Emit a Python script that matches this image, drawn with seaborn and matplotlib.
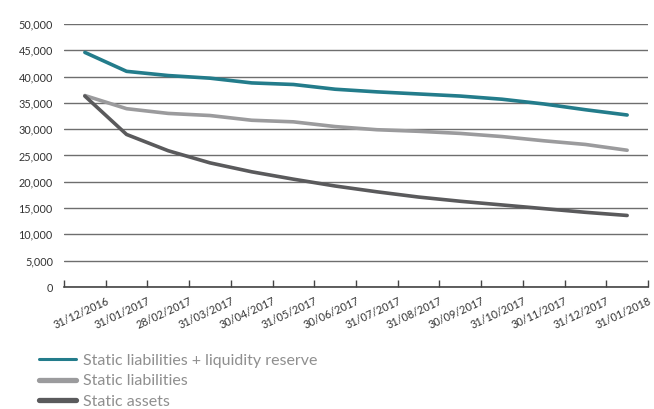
import matplotlib
matplotlib.use("Agg")
import matplotlib.pyplot as plt
import matplotlib.ticker as mticker
from matplotlib.lines import Line2D
import seaborn as sns
import pandas as pd

dates = ["31/12/2016", "31/01/2017", "28/02/2017", "31/03/2017", "30/04/2017",
         "31/05/2017", "30/06/2017", "31/07/2017", "31/08/2017", "30/09/2017",
         "31/10/2017", "30/11/2017", "31/12/2017", "31/01/2018"]
liab_reserve = [44600, 41000, 40200, 39700, 38800, 38500, 37600,
                37100, 36700, 36300, 35700, 34800, 33700, 32700]
liabilities = [36400, 33900, 33000, 32600, 31700, 31400, 30500,
               29900, 29600, 29200, 28600, 27800, 27100, 26000]
assets = [36300, 29000, 25900, 23600, 21900, 20500, 19200,
          18100, 17100, 16300, 15600, 14900, 14200, 13600]
series_names = ["Static liabilities + liquidity reserve",
                "Static liabilities", "Static assets"]
colors = ["#237c8b", "#9b9b9d", "#5a5a5c"]

df = pd.concat([
    pd.DataFrame({"pos": range(len(dates)), "value": vals, "series": name})
    for name, vals in zip(series_names, [liab_reserve, liabilities, assets])
])

sns.set_style("white")
plt.rcParams["font.family"] = ["Lato", "DejaVu Sans"]

fig = plt.figure(figsize=(6.54, 4.09), dpi=100)
ax = fig.add_axes([64 / 654, 1 - 287 / 409, 584 / 654, 263 / 409])

sns.lineplot(data=df, x="pos", y="value", hue="series", palette=colors,
             linewidth=2.6, legend=False, ax=ax)

ax.set_xlim(-0.5, len(dates) - 0.5)
ax.set_ylim(0, 50000)
ax.yaxis.set_major_locator(mticker.MultipleLocator(5000))
ax.yaxis.set_major_formatter(mticker.FuncFormatter(lambda v, p: f"{int(v):,}"))
ax.grid(axis="y", color="#6e6e6e", linewidth=1.0)
ax.set_axisbelow(True)
for s in ["top", "right", "left"]:
    ax.spines[s].set_visible(False)
ax.spines["bottom"].set_color("#444444")
ax.spines["bottom"].set_linewidth(1.2)

# tick marks at category boundaries, labels ending at the right boundary
ax.xaxis.remove_overlapping_locs = False
ax.set_xticks([i - 0.5 for i in range(len(dates) + 1)])
ax.set_xticklabels([])
ax.tick_params(axis="x", which="major", direction="in", length=5,
               width=1, color="#444444", bottom=True)
ax.set_xticks([i + 0.5 for i in range(len(dates))], minor=True)
ax.set_xticklabels(dates, minor=True, rotation=25, ha="right",
                   rotation_mode="anchor", fontsize=7.8, color="#333333")
ax.tick_params(axis="x", which="minor", length=0, pad=6)
ax.tick_params(axis="y", length=0, labelsize=7.8, labelcolor="#333333", pad=8)
ax.set_xlabel("")
ax.set_ylabel("")

handles = [Line2D([], [], color=colors[0], linewidth=2.2),
           Line2D([], [], color=colors[1], linewidth=3.8),
           Line2D([], [], color=colors[2], linewidth=3.8)]
leg = fig.legend(handles, series_names, loc="upper left",
                 bbox_to_anchor=(33 / 654, 1 - 347 / 409), frameon=False,
                 fontsize=11.5, handlelength=2.3, handletextpad=0.45,
                 labelspacing=0.4, borderaxespad=0)
for t in leg.get_texts():
    t.set_color("#8f8f8f")

fig.savefig("out.png", dpi=100)
